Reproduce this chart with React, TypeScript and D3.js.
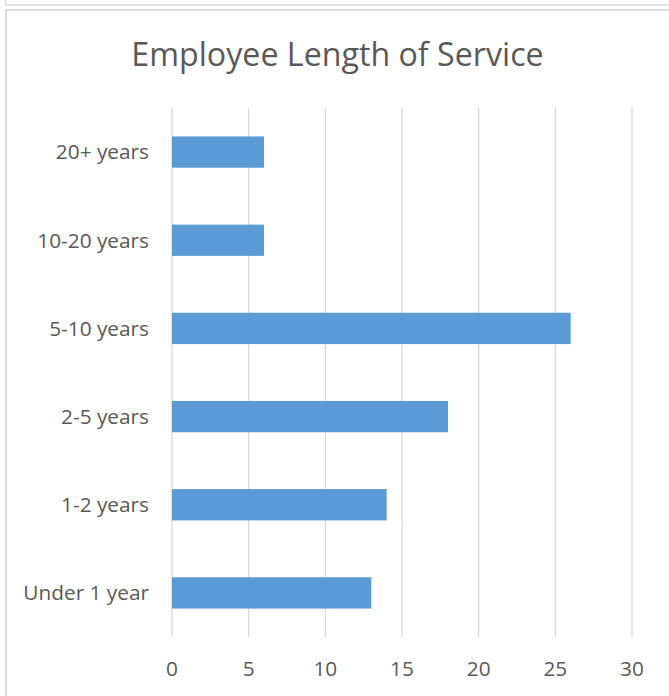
import React, { useEffect, useRef } from "react";
import * as d3 from "d3";

const categories = ["20+ years", "10-20 years", "5-10 years", "2-5 years", "1-2 years", "Under 1 year"];
const employees = [6, 6, 26, 18, 14, 13];
const xTicks = [0, 5, 10, 15, 20, 25, 30];
const title = "Employee Length of Service";

const App = () => {
  const svgRef = useRef<SVGSVGElement>(null);

  useEffect(() => {
    const w = 669;
    const h = 696;
    const left = 172;
    const right = 632;
    const top = 108;
    const bottom = 637;
    const font = "'Open Sans', sans-serif";
    const textColor = "#595959";

    const svg = d3.select(svgRef.current);
    svg.selectAll("*").remove();
    svg.attr("width", w).attr("height", h).style("background", "#fff");

    // outer frames
    svg.append("rect")
      .attr("x", 5.5).attr("y", -20).attr("width", 700).attr("height", 25)
      .attr("fill", "none").attr("stroke", "#d9d9d9").attr("stroke-width", 1.5);
    svg.append("rect")
      .attr("x", 6).attr("y", 10).attr("width", 700).attr("height", 720)
      .attr("fill", "#fff").attr("stroke", "#d9d9d9").attr("stroke-width", 1.8);

    const xScale = d3.scaleLinear().domain([0, 30]).range([left, right]);
    const yScale = d3.scaleBand<string>().domain(categories).range([top, bottom]).paddingInner(0.645).paddingOuter(0.3225);

    // gridlines
    svg.append("g")
      .selectAll("line")
      .data(xTicks)
      .join("line")
      .attr("x1", (d) => xScale(d)).attr("x2", (d) => xScale(d))
      .attr("y1", top).attr("y2", bottom)
      .attr("stroke", "#d9d9d9").attr("stroke-width", 1.3);

    // bars
    svg.append("g")
      .selectAll("rect")
      .data(categories)
      .join("rect")
      .attr("x", xScale(0))
      .attr("y", (d) => yScale(d)!)
      .attr("width", (d, i) => xScale(employees[i]) - xScale(0))
      .attr("height", yScale.bandwidth())
      .attr("fill", "#5b9bd5");

    // category labels
    svg.append("g")
      .selectAll("text")
      .data(categories)
      .join("text")
      .attr("x", 149)
      .attr("y", (d) => yScale(d)! + yScale.bandwidth() / 2)
      .attr("dy", "0.35em")
      .attr("text-anchor", "end")
      .attr("font-family", font)
      .attr("font-size", 20.8)
      .attr("fill", textColor)
      .text((d) => d);

    // x tick labels
    svg.append("g")
      .selectAll("text")
      .data(xTicks)
      .join("text")
      .attr("x", (d) => xScale(d))
      .attr("y", 676)
      .attr("text-anchor", "middle")
      .attr("font-family", font)
      .attr("font-size", 20.8)
      .attr("fill", textColor)
      .text((d) => d);

    // title
    svg.append("text")
      .attr("x", 337.5)
      .attr("y", 66)
      .attr("text-anchor", "middle")
      .attr("font-family", font)
      .attr("font-size", 32.2)
      .attr("fill", textColor)
      .text(title);
  }, []);

  return (
    <div>
      <svg ref={svgRef} style={{ position: "absolute", left: 0, top: 0 }}></svg>
    </div>
  );
};

export default App;
